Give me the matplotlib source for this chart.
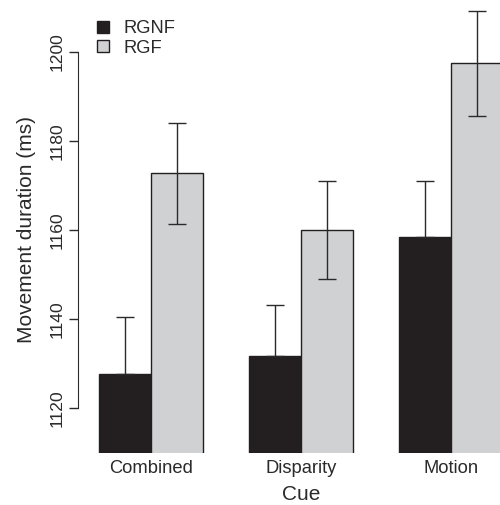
import numpy as np
import matplotlib
matplotlib.use("Agg")
import matplotlib.pyplot as plt
from matplotlib.lines import Line2D

plt.rcParams['font.family'] = ['Liberation Sans', 'DejaVu Sans']

cues = ["Combined", "Disparity", "Motion"]
conditions = ["RGNF", "RGF"]
rgnf_mean = [1127.7, 1131.6, 1158.4]
rgnf_err = [12.7, 11.6, 12.6]
rgf_mean = [1172.7, 1160.1, 1197.4]
rgf_err = [11.4, 11.0, 11.7]

dark = "#231f20"
light = "#d0d1d3"
ink = "#2a2a2a"

fig = plt.figure(figsize=(5.0, 5.05), dpi=100)
# plot region runs past the right edge, like the cropped original
ax = fig.add_axes([0.1554, 0.1036, 0.8932, 0.882])

period = 2.9
centers = np.arange(len(cues)) * period
width = 1.0

ax.bar(centers - width / 2, rgnf_mean, width, color=dark,
       edgecolor=dark, linewidth=1.0)
ax.bar(centers + width / 2, rgf_mean, width, color=light,
       edgecolor=dark, linewidth=1.0)
# lower half of the dark bars' whiskers is hidden in the bar
ax.errorbar(centers - width / 2, rgnf_mean,
            yerr=[np.zeros(len(cues)), rgnf_err], fmt='none',
            ecolor=ink, elinewidth=1.0, capsize=6.5, capthick=1.0)
ax.errorbar(centers + width / 2, rgf_mean, yerr=rgf_err, fmt='none',
            ecolor=ink, elinewidth=1.0, capsize=6.5, capthick=1.0)

ax.set_xlim(centers[0] - 1.42, centers[-1] + 1.42)
ax.set_ylim(1110, 1210)

for s in ['top', 'right', 'bottom']:
    ax.spines[s].set_visible(False)
ax.spines['left'].set_bounds(1120, 1200)
ax.spines['left'].set_color(ink)

ax.set_yticks([1120, 1140, 1160, 1180, 1200])
ax.tick_params(axis='y', length=6.3, width=1.0, color=ink, pad=3,
               labelsize=12.6, labelcolor=ink)
plt.setp(ax.get_yticklabels(), rotation=90, va='center')

ax.set_xticks(centers)
ax.set_xticklabels(cues)
ax.tick_params(axis='x', length=0, pad=5, labelsize=13.2, labelcolor=ink)

ax.set_ylabel("Movement duration (ms)", fontsize=15, color=ink, labelpad=10)
ax.set_xlabel("Cue", fontsize=15, color=ink, labelpad=6)

handles = [Line2D([], [], ls='none', marker='s', markersize=8.6,
                  markerfacecolor=dark, markeredgecolor=dark),
           Line2D([], [], ls='none', marker='s', markersize=8.6,
                  markerfacecolor=light, markeredgecolor=dark)]
fig.legend(handles, conditions, loc='upper left',
           bbox_to_anchor=(0.169, 0.982), frameon=False, fontsize=13.2,
           handlelength=0.8, handletextpad=0.75, labelspacing=0.15,
           borderaxespad=0.2, labelcolor=ink)

fig.savefig("out.png", dpi=100)
